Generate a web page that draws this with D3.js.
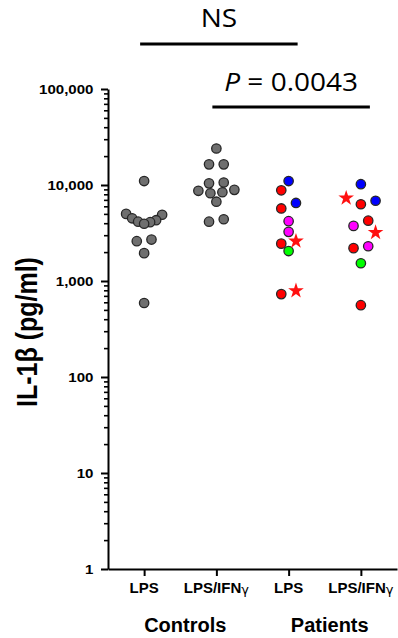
<!DOCTYPE html>
<html>
<head>
<meta charset="utf-8">
<script src="https://cdn.jsdelivr.net/npm/d3@7/dist/d3.min.js"></script>
<style>
  html, body { margin: 0; padding: 0; background: #ffffff; }
  svg { display: block; }
</style>
</head>
<body>
<svg id="chart" width="398" height="638"></svg>
<script>
// ---- data -----------------------------------------------------------------
const columnKeys   = ["ctrlLPS", "ctrlLPSIFN", "patLPS", "patLPSIFN"];
const columnLabels = ["LPS", "LPS/IFNγ", "LPS", "LPS/IFNγ"];
const groupLabels  = ["Controls", "Patients"];
const groupMembers = [["ctrlLPS", "ctrlLPSIFN"], ["patLPS", "patLPSIFN"]];

// IL-1β, pg/ml
const controlsLPS      = [11000, 5000, 4900, 4500, 4300, 4150, 4100, 3950, 2700, 2600, 1950, 590];
const controlsLPSIFN   = [24000, 16400, 16400, 10600, 10400, 8900, 8700, 8400, 8200, 6700, 4400, 4150];
const patientsLPS      = [11000, 8800, 6500, 5700, 4200, 3250, 2450, 2600, 2050, 730, 790];
const patientsLPSIFN   = [10200, 7300, 6850, 6300, 4250, 3750, 3200, 2300, 2200, 1530, 560];

// patient subgroup of each value (same order as the value arrays)
const patientsLPSGroup    = ["B", "A", "B", "A", "C", "C", "A", "E", "D", "A", "E"];
const patientsLPSIFNGroup = ["B", "E", "B", "A", "A", "C", "E", "C", "A", "D", "A"];

const yTickValues = [1, 10, 100, 1000, 10000, 100000];

// pairwise comparisons: [first column, second column], label
const comparisonPairs  = [["ctrlLPS", "patLPS"], ["ctrlLPSIFN", "patLPSIFN"]];
const comparisonLabels = [["NS"], ["P", " = 0.0043"]];

// ---- styles ---------------------------------------------------------------
const markerStyle = {
  ctrl: { fill: "#6f6f6f", shape: "circle" },
  A:    { fill: "#ff0000", shape: "circle" },
  B:    { fill: "#0000ff", shape: "circle" },
  C:    { fill: "#ff00ff", shape: "circle" },
  D:    { fill: "#00ff00", shape: "circle" },
  E:    { fill: "#ff1010", shape: "star" }
};
const CIRCLE_R = 4.7;
const STAR_SIZE = 76;          // d3 symbol area
const HIT_R = { circle: 5.25, star: 7.3 };

const boldFont = "'Liberation Sans', Arial, Helvetica, sans-serif";
const statFont = "'Open Sans', 'Noto Sans', sans-serif";

// ---- scales ---------------------------------------------------------------
const svg = d3.select("#chart");
const axisX = 108;
const x = d3.scalePoint().domain(columnKeys).range([axisX, 397]).padding(0.5);
const y = d3.scaleLog().domain([1, 100000]).range([569, 89]);

// ---- y axis ---------------------------------------------------------------
const minorTicks = y.ticks().filter(v => !yTickValues.includes(v));

svg.append("g")
  .attr("transform", `translate(${axisX},0)`)
  .call(d3.axisLeft(y).tickValues(minorTicks).tickSize(4).tickSizeOuter(0).tickFormat(""))
  .call(g => g.select(".domain").remove())
  .call(g => g.selectAll(".tick line").attr("stroke", "#000").attr("stroke-width", 1.6));

const yAxis = svg.append("g")
  .attr("transform", `translate(${axisX},0)`)
  .call(d3.axisLeft(y).tickValues(yTickValues).tickSize(7).tickSizeOuter(0)
        .tickFormat(d3.format(",")));
yAxis.select(".domain").attr("stroke", "#000").attr("stroke-width", 2);
yAxis.selectAll(".tick line").attr("stroke", "#000").attr("stroke-width", 2);
const tickStretch = 1.16;
yAxis.selectAll(".tick text")
  .attr("x", -14.5 / tickStretch)
  .attr("dy", "0.36em")
  .attr("transform", `scale(${tickStretch},1)`)
  .attr("fill", "#000")
  .style("font-family", boldFont)
  .style("font-weight", "bold")
  .style("font-size", "13px");

// ---- x axis ---------------------------------------------------------------
const xAxis = svg.append("g")
  .attr("transform", `translate(0,${y(1)})`)
  .call(d3.axisBottom(x).tickSize(7).tickSizeOuter(0).tickFormat(""));
xAxis.select(".domain").attr("stroke", "#000").attr("stroke-width", 2);
xAxis.selectAll(".tick line").attr("stroke", "#000").attr("stroke-width", 2);

const xLabels = svg.append("g")
  .style("font-family", boldFont)
  .style("font-weight", "bold")
  .style("font-size", "15px")
  .attr("fill", "#000");
columnKeys.forEach((k, i) => {
  const label = columnLabels[i];
  const t = xLabels.append("text")
    .attr("x", x(k))
    .attr("y", 592.5)
    .attr("text-anchor", "middle");
  if (label.endsWith("γ")) {
    t.append("tspan").text(label.slice(0, -1));
    t.append("tspan")
      .attr("dy", "0.12em")
      .style("font-weight", "normal")
      .style("font-size", "13px")
      .style("font-family", "'DejaVu Sans', sans-serif")
      .text("γ");
  } else {
    t.text(label);
  }
});

groupLabels.forEach((g, i) => {
  const mid = d3.mean(groupMembers[i], k => x(k));
  svg.append("text")
    .attr("x", mid + 5)
    .attr("y", 631.5)
    .attr("text-anchor", "middle")
    .style("font-family", boldFont)
    .style("font-weight", "bold")
    .style("font-size", "20px")
    .attr("fill", "#000")
    .text(g);
});

// y axis title
svg.append("text")
  .attr("transform", `translate(36.5,332) scale(1.17,1) rotate(-90)`)
  .attr("text-anchor", "middle")
  .style("font-family", boldFont)
  .style("font-weight", "bold")
  .style("font-size", "25px")
  .attr("fill", "#000")
  .text("IL-1β (pg/ml)");

// ---- scatter layout -------------------------------------------------------
// Points are gathered into rows of near-equal height; each row is spread
// symmetrically about the column centre (lowest point in the middle),
// lone points step aside when they would sit on a neighbour.
function swarm(points) {
  const SLOT = 7.35, MAX_HALF = 18;
  const sorted = points.slice().sort((a, b) => a.py - b.py);
  const rows = [];
  sorted.forEach(p => {
    const row = rows[rows.length - 1];
    if (row && p.py - row[row.length - 1].py < 5.5) row.push(p);
    else rows.push([p]);
  });
  const placed = [];
  const hits = (p, dx) => placed.some(q => {
    const lim = HIT_R[p.shape] + HIT_R[q.shape] - 0.6;
    return Math.hypot(dx - q.dx, p.py - q.py) < lim;
  });
  rows.forEach(row => {
    if (row.length === 1) {
      const p = row[0];
      const options = [0, -SLOT, SLOT, -2 * SLOT, 2 * SLOT, -3 * SLOT, 3 * SLOT];
      p.dx = options.find(o => !hits(p, o));
      if (p.dx === undefined) p.dx = 0;
      placed.push(p);
      return;
    }
    const n = row.length;
    const spacing = Math.min(2 * SLOT, (2 * MAX_HALF) / (n - 1));
    const byDepth = row.slice().sort((a, b) => b.py - a.py);
    const order = [];
    if (n % 2 === 1) {
      order.push(0);
      for (let k = 1; order.length < n; k++) { order.push(k); order.push(-k); }
    } else {
      for (let k = 0.5; order.length < n; k++) { order.push(-k); order.push(k); }
    }
    byDepth.forEach((p, i) => { p.dx = order[i] * spacing; placed.push(p); });
  });
  return points;
}

const columnValues = [controlsLPS, controlsLPSIFN, patientsLPS, patientsLPSIFN];
const columnGroups = [
  controlsLPS.map(() => "ctrl"),
  controlsLPSIFN.map(() => "ctrl"),
  patientsLPSGroup,
  patientsLPSIFNGroup
];

const allPoints = [];
columnKeys.forEach((k, ci) => {
  const pts = columnValues[ci].map((v, i) => {
    const grp = columnGroups[ci][i];
    return { key: k, value: v, group: grp, shape: markerStyle[grp].shape, py: y(v) };
  });
  swarm(pts).forEach(p => allPoints.push(p));
});

const marks = svg.append("g");
marks.selectAll("circle")
  .data(allPoints.filter(p => p.shape === "circle"))
  .join("circle")
  .attr("cx", p => x(p.key) + p.dx)
  .attr("cy", p => y(p.value))
  .attr("r", CIRCLE_R)
  .attr("fill", p => markerStyle[p.group].fill)
  .attr("stroke", "#262626")
  .attr("stroke-width", 1.3);

marks.selectAll("path.star")
  .data(allPoints.filter(p => p.shape === "star"))
  .join("path")
  .attr("class", "star")
  .attr("transform", p => `translate(${x(p.key) + p.dx},${y(p.value)})`)
  .attr("d", d3.symbol(d3.symbolStar, STAR_SIZE))
  .attr("fill", p => markerStyle[p.group].fill);

// ---- comparison brackets --------------------------------------------------
const bracketY = [44, 107];
const labelY = [27, 91];
comparisonPairs.forEach(([a, b], i) => {
  const x0 = x(a) - 4, x1 = x(b) + 9;
  svg.append("line")
    .attr("x1", x0).attr("x2", x1)
    .attr("y1", bracketY[i]).attr("y2", bracketY[i])
    .attr("stroke", "#000")
    .attr("stroke-width", 3);
  const t = svg.append("text")
    .attr("transform", `translate(${(x0 + x1) / 2},${labelY[i]}) scale(1.12,1)`)
    .attr("text-anchor", "middle")
    .style("font-family", statFont)
    .style("font-size", "25px")
    .attr("fill", "#000");
  comparisonLabels[i].forEach((part, j) => {
    t.append("tspan")
      .style("font-style", j === 0 && comparisonLabels[i].length > 1 ? "italic" : "normal")
      .text(part);
  });
});
</script>
</body>
</html>
